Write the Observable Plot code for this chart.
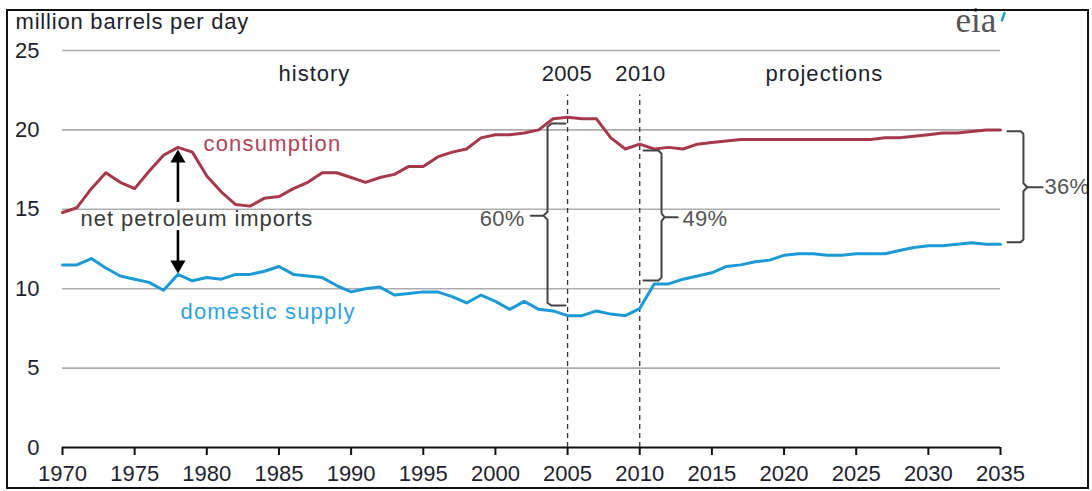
<!DOCTYPE html>
<html>
<head>
<meta charset="utf-8">
<script src="https://cdn.jsdelivr.net/npm/d3@7"></script>
<script src="https://cdn.jsdelivr.net/npm/@observablehq/plot@0.6"></script>
<style>
  body { margin: 0; background: #fff; }
  #wrap { position: relative; width: 1092px; height: 491px; overflow: hidden; }
  #border { position: absolute; left: 6px; top: 8.5px; width: 1079px; height: 476px; border: 2.5px solid #111; pointer-events: none; }
</style>
</head>
<body>
<div id="wrap"><div id="border"></div></div>
<script>
// ---- data ----
const years = [1970,1971,1972,1973,1974,1975,1976,1977,1978,1979,
  1980,1981,1982,1983,1984,1985,1986,1987,1988,1989,
  1990,1991,1992,1993,1994,1995,1996,1997,1998,1999,
  2000,2001,2002,2003,2004,2005,2006,2007,2008,2009,
  2010,2011,2012,2013,2014,2015,2016,2017,2018,2019,
  2020,2021,2022,2023,2024,2025,2026,2027,2028,2029,
  2030,2031,2032,2033,2034,2035];
const consumption = [14.8,15.1,16.3,17.3,16.7,16.3,17.4,18.4,18.9,18.6,
  17.1,16.1,15.3,15.2,15.7,15.8,16.3,16.7,17.3,17.3,
  17.0,16.7,17.0,17.2,17.7,17.7,18.3,18.6,18.8,19.5,
  19.7,19.7,19.8,20.0,20.7,20.8,20.7,20.7,19.5,18.8,
  19.1,18.8,18.9,18.8,19.1,19.2,19.3,19.4,19.4,19.4,
  19.4,19.4,19.4,19.4,19.4,19.4,19.4,19.5,19.5,19.6,
  19.7,19.8,19.8,19.9,20.0,20.0];
const domesticSupply = [11.5,11.5,11.9,11.3,10.8,10.6,10.4,9.9,10.9,10.5,
  10.7,10.6,10.9,10.9,11.1,11.4,10.9,10.8,10.7,10.2,
  9.8,10.0,10.1,9.6,9.7,9.8,9.8,9.5,9.1,9.6,
  9.2,8.7,9.2,8.7,8.6,8.3,8.3,8.6,8.4,8.3,
  8.75,10.3,10.3,10.6,10.8,11.0,11.4,11.5,11.7,11.8,
  12.1,12.2,12.2,12.1,12.1,12.2,12.2,12.2,12.4,12.6,
  12.7,12.7,12.8,12.9,12.8,12.8];
const xTicks = [1970,1975,1980,1985,1990,1995,2000,2005,2010,2015,2020,2025,2030,2035];
const yTicks = [0,5,10,15,20,25];
const markerYears = [2005, 2010];
const phaseLabels = ["history", "2005", "2010", "projections"];
const shareLabels = ["60%", "49%", "36%"];
const unitLabel = "million barrels per day";
const seriesLabels = ["consumption", "domestic supply", "net petroleum imports"];

// ---- build ----
const FONT = "'Liberation Sans', Arial, Helvetica, sans-serif";
const ink = "#1e1e2e";
const redC = "#a6394a";
const blueC = "#1b9ad6";
const braceC = "#444";
const FS = 22;

const rows = years.map((y, i) => ({year: y, consumption: consumption[i], domestic: domesticSupply[i]}));

// annotation geometry (data coordinates)
const brace60 = [[2004.86,20.4],[2003.9,20.4],[2003.61,20.2],[2003.61,14.85],[2003.33,14.6],[2003.61,14.35],[2003.61,9.1],[2003.9,8.94],[2004.86,8.94]];
const tick60 = [[2003.33,14.6],[2002.45,14.6]];
const brace49 = [[2010.26,18.7],[2011.3,18.7],[2011.51,18.5],[2011.51,14.75],[2011.72,14.5],[2011.51,14.25],[2011.51,10.7],[2011.3,10.52],[2010.26,10.52]];
const tick49 = [[2011.72,14.5],[2012.62,14.5]];
const brace36 = [[2035.48,19.92],[2036.4,19.92],[2036.59,19.75],[2036.59,16.64],[2036.85,16.39],[2036.59,16.14],[2036.59,13.1],[2036.4,12.93],[2035.48,12.93]];
const tick36 = [[2036.85,16.39],[2037.91,16.39]];

const chart = Plot.plot({
  width: 1092,
  height: 491,
  marginLeft: 62,
  marginRight: 92,
  marginTop: 50,
  marginBottom: 44,
  style: {fontFamily: FONT, fontSize: FS + "px", color: ink, background: "transparent", overflow: "visible"},
  x: {domain: [1970, 2035], label: null},
  y: {domain: [0, 25], label: null},
  marks: [
    Plot.ruleY(yTicks.filter(d => d > 0), {stroke: "#adadad", strokeWidth: 1.6}),
    Plot.axisY(yTicks, {tickSize: 0, tickPadding: 23, fontSize: FS, fill: ink, label: null}),
    Plot.axisX(xTicks, {tickSize: 8, tickPadding: 10, tickFormat: d => String(d), fontSize: FS, stroke: "#111", strokeWidth: 2, fill: ink, label: null}),
    Plot.ruleY([0], {stroke: "#111", strokeWidth: 2}),
    Plot.ruleX(markerYears, {y1: 0, y2: 22.2, stroke: "#333", strokeWidth: 1.3, strokeDasharray: "5,4"}),
    Plot.line(rows, {x: "year", y: "consumption", stroke: redC, strokeWidth: 3}),
    Plot.line(rows, {x: "year", y: "domestic", stroke: blueC, strokeWidth: 3}),
    // braces
    Plot.line(brace60, {stroke: braceC, strokeWidth: 2}),
    Plot.line(tick60, {stroke: braceC, strokeWidth: 2}),
    Plot.line(brace49, {stroke: braceC, strokeWidth: 2}),
    Plot.line(tick49, {stroke: braceC, strokeWidth: 2}),
    Plot.line(brace36, {stroke: braceC, strokeWidth: 2}),
    Plot.line(tick36, {stroke: braceC, strokeWidth: 2}),
    // double arrow for net imports
    Plot.ruleX([1978], {y1: 15.43, y2: 18.3, stroke: "#000", strokeWidth: 2.6}),
    Plot.ruleX([1978], {y1: 11.5, y2: 13.66, stroke: "#000", strokeWidth: 2.6}),
    Plot.dot([1978], {x: d => d, y: 18.22, symbol: "triangle", r: 5.6, fill: "#000", stroke: null}),
    Plot.dot([1978], {x: d => d, y: 11.5, symbol: "triangle", r: 5.6, fill: "#000", stroke: null, rotate: 180}),
    // texts
    Plot.text([unitLabel], {frameAnchor: "top-left", dx: -47, dy: -28.5, textAnchor: "start", lineAnchor: "middle", fill: ink, fontSize: FS}),
    Plot.text(phaseLabels, {x: [1987.46, 2004.95, 2010.05, 2022.8], y: 23.5, text: d => d, textAnchor: "middle", lineAnchor: "middle", fill: ink, fontSize: FS}),
    Plot.text([seriesLabels[0]], {x: 1979.77, y: 19.14, textAnchor: "start", lineAnchor: "middle", fill: "#b0445a", fontSize: FS}),
    Plot.text([seriesLabels[1]], {x: 1978.18, y: 8.53, textAnchor: "start", lineAnchor: "middle", fill: "#2fa3dc", fontSize: FS}),
    Plot.text([seriesLabels[2]], {x: 1971.25, y: 14.42, textAnchor: "start", lineAnchor: "middle", fill: "#3a3a3a", fontSize: FS}),
    Plot.text([shareLabels[0]], {x: 2002.02, y: 14.42, textAnchor: "end", lineAnchor: "middle", fill: "#555", fontSize: FS}),
    Plot.text([shareLabels[1]], {x: 2012.96, y: 14.42, textAnchor: "start", lineAnchor: "middle", fill: "#555", fontSize: FS}),
    Plot.text([shareLabels[2]], {x: 2038.05, y: 16.43, textAnchor: "start", lineAnchor: "middle", fill: "#555", fontSize: FS}),
    // eia logo
    Plot.text(["eia"], {x: 2033.3, y: 26.85, textAnchor: "middle", lineAnchor: "middle", fill: "#555", fontSize: 35, fontFamily: "'Liberation Serif', 'DejaVu Serif', serif"}),
    Plot.line([[2035.28, 27.35], [2035.1, 26.9]], {stroke: blueC, strokeWidth: 2.5})
  ]
});

const spacing = {
  "million barrels per day": 0.8, "history": 1.0, "projections": 1.05,
  "consumption": 1.2, "domestic supply": 1.15, "net petroleum imports": 0.95,
  "2005": 0.3, "2010": 0.3, "60%": 0.3, "49%": 0.3, "36%": 0.3
};
d3.select(chart).selectAll("text").each(function() {
  const t = this.textContent;
  if (spacing[t] != null && !this.closest("[aria-label^='x-axis']")) this.style.letterSpacing = spacing[t] + "px";
});
document.getElementById("wrap").insertBefore(chart, document.getElementById("border"));
</script>
</body>
</html>
